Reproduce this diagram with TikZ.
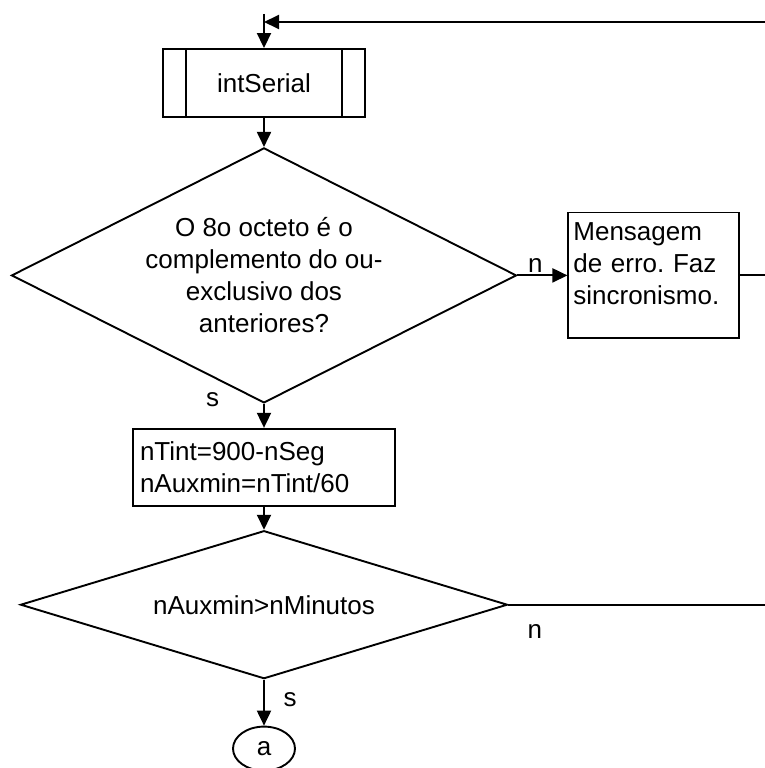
\documentclass[tikz,border=0pt]{standalone}
\usepackage{fontspec}
\setmainfont{Liberation Sans}
\usetikzlibrary{arrows.meta,positioning,shapes.geometric}
\frenchspacing

\begin{document}
\begin{tikzpicture}[x=1pt, y=-1pt, line width=1.9pt, every node/.style={font=\fontsize{26}{32}\selectfont}, box/.style={draw,rectangle,inner sep=0pt}, dec/.style={draw,diamond,inner sep=0pt,align=center}, lbl/.style={inner sep=0pt,anchor=base}, arr/.style={-{Triangle[length=15pt,width=14pt]}}]
\useasboundingbox (0,0) rectangle (765,768);
\node[box,minimum width=202pt,minimum height=68pt] (int) at (264,83) {intSerial};
\draw ([xshift=24pt]int.north west)--([xshift=24pt]int.south west);\draw ([xshift=-24pt]int.north east)--([xshift=-24pt]int.south east);
\node[dec,aspect=2,minimum width=505pt,minimum height=255pt,below=29pt of int] (q1) {O 8o octeto é o\\complemento do ou-\\exclusivo dos\\anteriores?};
\node[box,align=left,text width=161pt,inner xsep=5pt,inner ysep=10pt,text depth=88pt,right=50pt of q1] (msg) {Mensagem\\de erro. Faz\\sincronismo.};
\node[box,align=left,text width=248pt,inner xsep=7pt,minimum height=77pt,below=24pt of q1] (calc) {nTint=900-nSeg\\nAuxmin=nTint/60};
\node[dec,aspect=3.3,minimum width=487pt,minimum height=148pt,below=23pt of calc] (q2) {nAuxmin>nMinutos};
\node[draw,ellipse,minimum width=62pt,minimum height=44pt,inner sep=0pt,below=46pt of q2] (a) {a};
\coordinate (in) at (264,14);\coordinate (back) at (264,22);\coordinate (r0) at (765,22);
\path (msg.east -| r0) coordinate (r1);\path (q2.east -| r0) coordinate (r2);
\node[lbl] (n1) at ([xshift=18pt,yshift=3pt]q1.east) {n};
\node[lbl] (s1) at ([xshift=-51.5pt,yshift=-3pt]q1.south) {s};
\node[lbl] (n2) at ([xshift=26.5pt,yshift=-34pt]q2.east) {n};
\node[lbl] (s2) at ([xshift=26pt,yshift=-27pt]q2.south) {s};
\draw[arr] (in)--(int.north);\draw[arr] (r0)--(back);\draw[arr] (int.south)--(q1.north);
\draw[arr] (q1.east)--(msg.west);\draw (msg.east)--(r1);\draw[arr] (q1.south)--(calc.north);
\draw[arr] (calc.south)--(q2.north);\draw (q2.east)--(r2);\draw[arr] (q2.south)--(a.north);
\end{tikzpicture}
\end{document}
